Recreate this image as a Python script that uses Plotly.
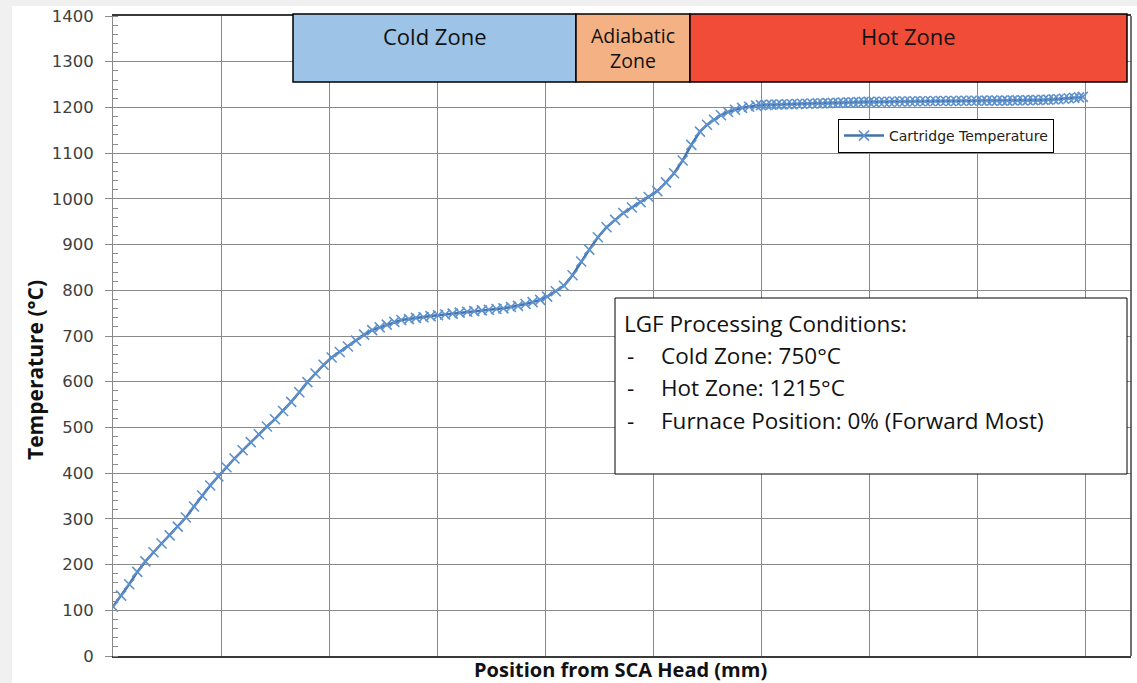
import plotly.graph_objects as go

# Position from SCA head (mm) and cartridge temperature (°C)
position_mm = [
    0, 1.5, 3, 4.5, 6, 7.5, 9, 10.5, 12, 13.5, 15, 16.5, 18, 19.5, 21, 22.5, 24, 25.5,
    27, 28.5, 30, 31.5, 33, 34.5, 36, 37.5, 39, 40.5, 42, 43.5, 45, 46.5, 48,
    49.4, 50.7, 52.1, 53.4, 54.8, 56.1, 57.5, 58.8, 60.2, 61.5, 62.9, 64.2, 65.6,
    66.9, 68.3, 69.6, 71.0, 72.3, 73.7, 75.0, 76.4, 77.7, 79.1, 80.4,
    82.0, 83.5, 85.1, 86.7, 88.2, 89.8, 91.4, 93.0, 94.5, 96.1, 97.7, 99.2, 100.8,
    102.4, 103.9, 105.5, 107.1, 108.7,
    110.0, 111.3, 112.6, 113.9, 115.2, 116.5, 117.8, 119.1,
    120.0, 121.0, 121.9, 122.9, 123.8, 124.8, 125.7, 126.7, 127.6, 128.6, 129.5,
    130.5, 131.4, 132.4, 133.3, 134.3, 135.2, 136.2, 137.1, 138.1, 139.0, 140.0,
    140.9, 141.9, 142.8, 143.8, 144.7, 145.7, 146.6, 147.6, 148.5, 149.5, 150.4,
    151.4, 152.3, 153.3, 154.2, 155.2, 156.1, 157.1, 158.0, 159.0, 159.9, 160.9,
    161.8, 162.8, 163.7, 164.7, 165.6, 166.6, 167.5, 168.5, 169.4, 170.4, 171.3,
    172.3, 173.2, 174.2, 175.1, 176.1, 177.0, 178.0, 178.9, 179.6,
]
temperature_c = [
    108, 132, 157, 184, 207, 227, 246, 264, 283, 303, 327, 351, 373, 393, 413, 432, 450, 468,
    485, 502, 518, 536, 556, 577, 599, 618, 637, 653, 665, 677, 690, 703, 713,
    719, 725, 731, 735, 737, 739.5, 741, 743.5, 745.5, 747, 749, 751, 753,
    754.5, 756, 757.5, 759, 760.5, 763.5, 766, 770, 774, 779, 786,
    798, 810, 833, 863, 889, 916, 938, 954, 969, 981, 993, 1004, 1017,
    1036, 1056, 1084, 1118, 1147,
    1162, 1173, 1183, 1190, 1195, 1199, 1201.5, 1204,
    1205, 1205.5, 1206, 1206, 1206.5, 1207, 1207, 1207.5, 1208, 1208, 1208.5,
    1209, 1209, 1209.5, 1210, 1210, 1210.5, 1211, 1211, 1211.5, 1212, 1212,
    1212, 1212.5, 1212.5, 1212.5, 1213, 1213, 1213, 1213, 1213.5, 1213.5, 1213.5,
    1213.5, 1214, 1214, 1214, 1214, 1214, 1214.5, 1214.5, 1214.5, 1214.5, 1215,
    1215, 1215, 1215, 1215, 1215, 1215.5, 1215.5, 1215.5, 1216, 1216, 1216,
    1216.5, 1217, 1217.5, 1218, 1219, 1220, 1221, 1222, 1223,
]

series_name = "Cartridge Temperature"
zone_labels = ["Cold Zone", "Adiabatic<br>Zone", "Hot Zone"]
zone_colors = ["#9dc3e6", "#f4b183", "#f04c38"]
condition_title = "LGF Processing Conditions:"
condition_lines = ["Cold Zone: 750°C", "Hot Zone: 1215°C", "Furnace Position: 0% (Forward Most)"]

W, H = 1137, 683
L, R, T, B = 113, 6, 16, 27
PW, PH = W - L - R, H - T - B


def px(xp):
    return (xp - L) / PW


def py(yp):
    return (H - B - yp) / PH


fig = go.Figure()
fig.add_trace(go.Scatter(
    x=position_mm, y=temperature_c, mode="lines+markers", name=series_name,
    line=dict(color="#4372b0", width=2.5),
    marker=dict(symbol="x-thin", size=10, line=dict(width=1.6, color="#5f92cc")),
))

shapes = []
shapes.append(dict(type="rect", xref="paper", yref="paper", x0=px(0), x1=px(W), y0=py(0), y1=py(6),
                   fillcolor="#f0f0f0", line=dict(width=0), layer="below"))
shapes.append(dict(type="rect", xref="paper", yref="paper", x0=px(0), x1=px(12), y0=py(H), y1=py(0),
                   fillcolor="#f0f0f0", line=dict(width=0), layer="below"))
shapes.append(dict(type="line", xref="paper", yref="paper", x0=1, x1=1, y0=0, y1=1,
                   line=dict(color="#404040", width=1.5)))
edges = [293, 576, 690, 1127]
for i in range(3):
    shapes.append(dict(type="rect", xref="paper", yref="paper",
                       x0=px(edges[i]), x1=px(edges[i + 1]), y0=py(82), y1=py(14),
                       fillcolor=zone_colors[i], line=dict(color="#000000", width=1.5), layer="above"))
shapes.append(dict(type="rect", xref="paper", yref="paper", x0=px(615), x1=px(1127), y0=py(474), y1=py(298),
                   fillcolor="white", line=dict(color="#000000", width=1), layer="above"))

ann = []
txtfont = "Open Sans, sans-serif"


def add_text(text, xp, yp, size, xanchor="center", angle=0, fam=txtfont):
    ann.append(dict(text=text, x=px(xp), y=py(yp), xref="paper", yref="paper", showarrow=False,
                    xanchor=xanchor, yanchor="middle", textangle=angle, align="center",
                    font=dict(family=fam, size=size, color="#111111")))


add_text(zone_labels[0], 435, 36, 22)
add_text(zone_labels[1], 633, 48, 19.5)
add_text(zone_labels[2], 908, 36, 22)

add_text(condition_title, 622, 323, 22.5, xanchor="left")
for yy, line in zip([355, 387, 420], condition_lines):
    add_text("-", 630, yy, 22.5)
    add_text(line, 659, yy, 22.5, xanchor="left")

add_text("<b>Temperature (°C)</b>", 35, 370, 21, angle=-90)
add_text("<b>Position from SCA Head (mm)</b>", 620, 669, 20)

fig.update_layout(
    width=W, height=H, margin=dict(l=L, r=R, t=T, b=B),
    paper_bgcolor="white", plot_bgcolor="white",
    shapes=shapes, annotations=ann,
    showlegend=True,
    legend=dict(x=px(838), y=py(119), xanchor="left", yanchor="top", bgcolor="white",
                bordercolor="#000000", borderwidth=1, font=dict(family="DejaVu Sans", size=14, color="#222222"),
                itemwidth=40, tracegroupgap=0),
)
fig.update_xaxes(range=[0, PW / 5.4], dtick=20, tick0=0, showticklabels=False, ticks="",
                 showgrid=True, gridcolor="#8a8a8a", gridwidth=1.2, zeroline=False,
                 showline=True, linecolor="#3a3a3a", linewidth=2, mirror=True)
fig.update_yaxes(range=[0, 1400], dtick=100, showgrid=True, gridcolor="#8a8a8a", gridwidth=1.2,
                 zeroline=False, showline=True, linecolor="#8a8a8a", linewidth=1,
                 ticks="outside", ticklen=7, tickcolor="#8a8a8a", ticklabelstandoff=8,
                 minor=dict(dtick=20, ticks="inside", ticklen=5, tickcolor="#8a8a8a", showgrid=False),
                 tickfont=dict(family="DejaVu Sans", size=16.5, color="#404040"))

fig.write_html("out.html")
